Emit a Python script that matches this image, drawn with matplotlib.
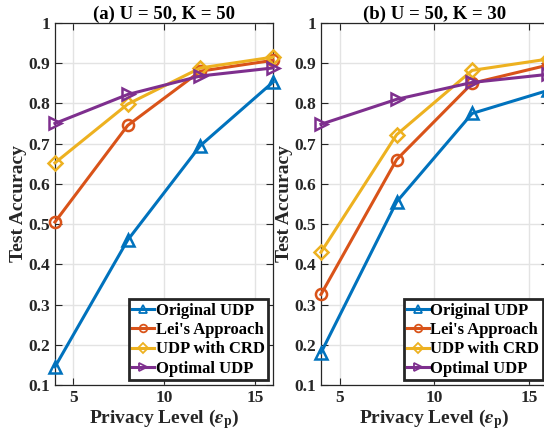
import matplotlib
matplotlib.use('Agg')
import matplotlib.pyplot as plt

plt.rcParams['font.family'] = 'Liberation Serif'
plt.rcParams['font.weight'] = 'bold'
plt.rcParams['axes.labelweight'] = 'bold'
plt.rcParams['axes.titleweight'] = 'bold'
plt.rcParams['mathtext.fontset'] = 'stix'

eps = [4, 8, 12, 16]
labels = ['Original UDP', "Lei's Approach", 'UDP with CRD', 'Optimal UDP']
colors = ['#0072BD', '#D95319', '#EDB120', '#7E2F8E']
markers = ['^', 'o', 'D', '>']
msizes = [9, 8, 7, 9]

# (a) U = 50, K = 50
acc_a_orig = [0.145, 0.460, 0.695, 0.853]
acc_a_lei = [0.505, 0.745, 0.880, 0.907]
acc_a_crd = [0.652, 0.798, 0.888, 0.915]
acc_a_opt = [0.750, 0.822, 0.868, 0.888]

# (b) U = 50, K = 30
acc_b_orig = [0.180, 0.555, 0.775, 0.832]
acc_b_lei = [0.325, 0.660, 0.850, 0.895]
acc_b_crd = [0.430, 0.722, 0.882, 0.910]
acc_b_opt = [0.748, 0.810, 0.852, 0.872]

fig = plt.figure(figsize=(5.44, 4.4), dpi=100)
ax1 = fig.add_axes([0.101, 0.125, 0.401, 0.823])
ax2 = fig.add_axes([0.590, 0.125, 0.417, 0.823])

panels = [
    (ax1, '(a) U = 50, K = 50', [acc_a_orig, acc_a_lei, acc_a_crd, acc_a_opt]),
    (ax2, '(b) U = 50, K = 30', [acc_b_orig, acc_b_lei, acc_b_crd, acc_b_opt]),
]

for ax, title, series in panels:
    for y, lab, c, m, ms in zip(series, labels, colors, markers, msizes):
        ax.plot(eps, y, color=c, marker=m, markersize=ms, markerfacecolor='none',
                markeredgewidth=1.8, linewidth=2.2, label=lab, clip_on=False, zorder=3)
    ax.set_xlim(4, 16)
    ax.set_ylim(0.1, 1.0)
    ax.set_xticks([5, 10, 15])
    ax.set_yticks([0.1, 0.2, 0.3, 0.4, 0.5, 0.6, 0.7, 0.8, 0.9, 1.0])
    ax.set_yticklabels(['0.1', '0.2', '0.3', '0.4', '0.5', '0.6', '0.7', '0.8', '0.9', '1'])
    ax.grid(True, color='#e3e3e3', linewidth=1.0)
    ax.set_axisbelow(True)
    ax.tick_params(direction='in', top=True, right=True, labelsize=12.5, length=5,
                   width=0.8, colors='#262626', labelcolor='#262626')
    for s in ax.spines.values():
        s.set_color('#262626')
        s.set_linewidth(0.9)
    ax.set_title(title, fontsize=13.5, pad=3)
    ax.set_xlabel(r'Privacy Level ($\epsilon_{\mathbf{p}}$)', fontsize=14, labelpad=1,
                  color='#262626')
    ax.set_ylabel('Test Accuracy', fontsize=14, labelpad=1, color='#262626')
    leg = ax.legend(loc='lower right', fontsize=12, handlelength=1.3, handletextpad=0.1,
                    borderpad=0.2, labelspacing=0.2, borderaxespad=0.3,
                    fancybox=False, framealpha=1, edgecolor='#262626')
    leg.get_frame().set_linewidth(2.0)
    for h in leg.legend_handles:
        h.set_markersize(5.5)
        h.set_markeredgewidth(1.3)

fig.savefig('out.png', dpi=100)
